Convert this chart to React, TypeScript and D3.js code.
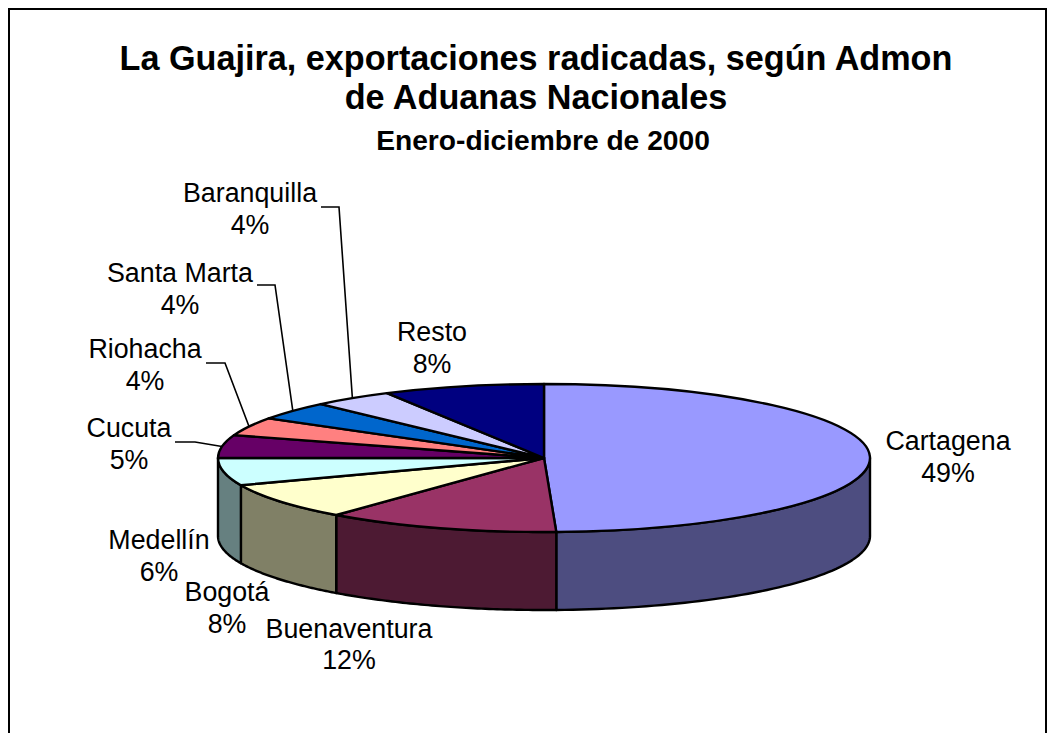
import React, { useEffect, useRef } from "react";
import * as d3 from "d3";

const categories = ["Cartagena", "Buenaventura", "Bogotá", "Medellín", "Cucuta", "Riohacha", "Santa Marta", "Baranquilla", "Resto"];
const shares = [49.4, 11.6, 8, 6, 5, 4, 4, 4, 8];
const colors = ["#9999ff", "#993366", "#ffffcc", "#ccffff", "#660066", "#ff8080", "#0066cc", "#ccccff", "#000080"];
const titleLines = ["La Guajira, exportaciones radicadas, según Admon", "de Aduanas Nacionales"];
const subtitle = "Enero-diciembre de 2000";

// label centres (name baseline)
const labelX = [948, 349, 227, 159, 129, 145, 180, 250, 432];
const labelY = [450, 637.5, 601, 549, 437, 358, 282, 202, 341];
// which labels get a leader line, elbow given from the label
const leaderElbows: Record<string, number[][]> = {
  Cucuta: [[175, 442], [195, 442]],
  Riohacha: [[206, 363], [225, 363]],
  "Santa Marta": [[257, 285], [275, 285]],
  Baranquilla: [[321, 207], [339, 207]],
};

const width = 1058,
  height = 733,
  cx = 544,
  cy = 458,
  rx = 326,
  ry = 74,
  depth = 78;

const font = "'Liberation Sans', Arial, sans-serif";

const drawChart = (svgEl: SVGSVGElement) => {
  const svg = d3.select(svgEl);
  svg.selectAll("*").remove();

  const pie = d3.pie<number>().sort(null).value((d) => d);
  const slices = pie(shares);
  const pct = d3.format(".0f");

  const px = (a: number) => cx + rx * Math.sin(a);
  const py = (a: number) => cy - ry * Math.cos(a);

  // frame, the bottom edge is cut by the picture
  svg
    .append("path")
    .attr("d", `M9,${height + 5}V9H1046V${height + 5}`)
    .attr("fill", "none")
    .attr("stroke", "#000")
    .attr("stroke-width", 2);

  // walls, only the front half of the rim shows
  const line = d3.line();
  const walls = svg.append("g");
  slices.forEach((s, i) => {
    const a0 = Math.max(s.startAngle, Math.PI / 2);
    const a1 = Math.min(s.endAngle, (3 * Math.PI) / 2);
    if (a1 <= a0) return;
    const steps = d3.range(0, 61).map((k) => a0 + ((a1 - a0) * k) / 60);
    const top = steps.map((a) => [px(a), py(a)] as [number, number]);
    const bottom = steps.map((a) => [px(a), py(a) + depth] as [number, number]).reverse();
    walls
      .append("path")
      .attr("d", line([...top, ...bottom]) + "Z")
      .attr("fill", d3.interpolateRgb(colors[i], "#000")(0.5))
      .attr("stroke", "#000")
      .attr("stroke-width", 2.4)
      .attr("stroke-linejoin", "round");
  });

  // top face: a unit arc squashed to the ellipse
  const arc = d3.arc<d3.PieArcDatum<number>>().innerRadius(0).outerRadius(rx);
  svg
    .append("g")
    .attr("transform", `translate(${cx},${cy}) scale(1,${ry / rx})`)
    .selectAll("path")
    .data(slices)
    .enter()
    .append("path")
    .attr("d", arc)
    .attr("fill", (d, i) => colors[i])
    .attr("stroke", "#000")
    .attr("stroke-width", 2.4)
    .attr("stroke-linejoin", "round")
    .attr("vector-effect", "non-scaling-stroke");

  // leader lines end on the rim at the middle of the slice
  slices.forEach((s, i) => {
    const elbow = leaderElbows[categories[i]];
    if (!elbow) return;
    const mid = (s.startAngle + s.endAngle) / 2;
    svg
      .append("path")
      .attr("d", line([...elbow, [px(mid), py(mid)]] as [number, number][]))
      .attr("fill", "none")
      .attr("stroke", "#000")
      .attr("stroke-width", 1.6);
  });

  const labels = svg
    .append("g")
    .attr("font-family", font)
    .attr("font-size", 26.8)
    .attr("text-anchor", "middle")
    .attr("fill", "#000");
  categories.forEach((c, i) => {
    labels.append("text").attr("x", labelX[i]).attr("y", labelY[i]).text(c);
    labels
      .append("text")
      .attr("x", labelX[i])
      .attr("y", labelY[i] + 31.5)
      .text(pct(shares[i]) + "%");
  });

  const head = svg
    .append("g")
    .attr("font-family", font)
    .attr("font-weight", "bold")
    .attr("text-anchor", "middle")
    .attr("fill", "#000");
  titleLines.forEach((t, i) => {
    head.append("text").attr("x", 536).attr("y", 70 + i * 39).attr("font-size", 34.2).text(t);
  });
  head.append("text").attr("x", 543).attr("y", 150).attr("font-size", 28.2).text(subtitle);
};

const App = () => {
  const svg = useRef<SVGSVGElement>(null);

  useEffect(() => {
    if (svg.current) drawChart(svg.current);
  }, []);

  return (
    <svg
      ref={svg}
      width={width}
      height={height}
      style={{ position: "fixed", left: 0, top: 0, background: "#fff" }}
    />
  );
};

export default App;
